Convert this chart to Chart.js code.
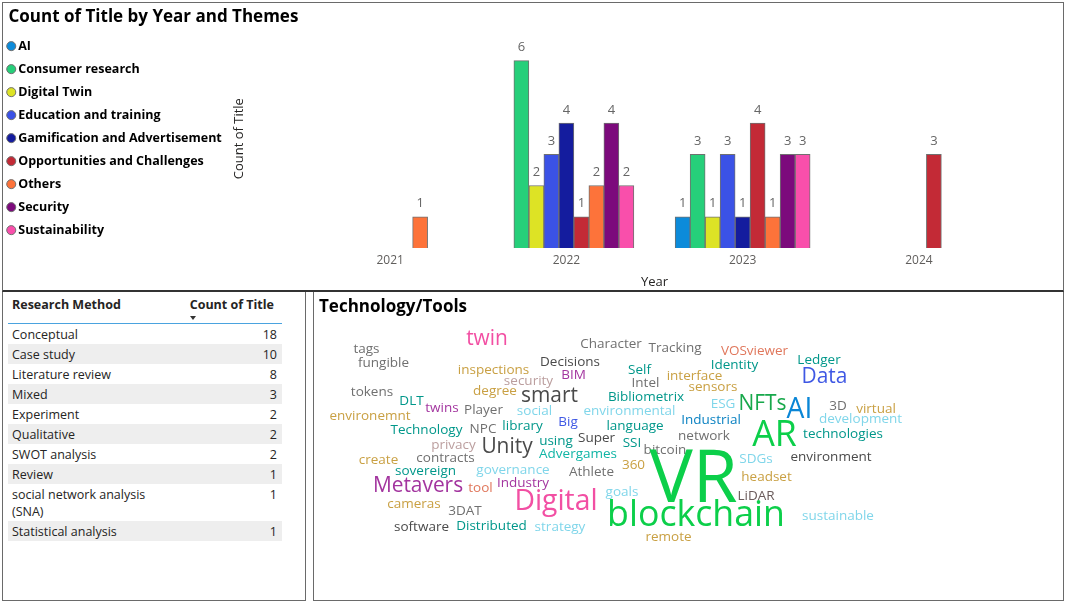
<!DOCTYPE html>
<html>
<head>
<meta charset="utf-8">
<title>Themes dashboard</title>
<script src="https://cdn.jsdelivr.net/npm/chart.js"></script>
<style>
  body { margin: 0; background: #fff; font-family: 'Open Sans', sans-serif; }
  .panel { position: absolute; box-sizing: border-box; border: 1px solid #6a6a6a; background: #fff; }
  #topPanel { left: 2px; top: 2px; width: 1062px; height: 290px; border-bottom: 2px solid #333; }
  #topPanel canvas { position: absolute; left: -3px; top: 0; }
  #tablePanel { left: 2px; top: 292px; width: 304px; height: 309px; border-top: 0; }
  #cloudPanel { left: 313px; top: 292px; width: 751px; height: 309px; border-top: 0; }
  #cloudPanel canvas { position: absolute; left: 0; top: 0; }
  #cloudTitle { position: absolute; left: 5px; top: 2px; font-size: 17px; font-weight: bold; color: #000; z-index: 2; }
  table { position: absolute; left: 5px; top: 3px; width: 274px; border-collapse: collapse; font-size: 12.5px; color: #252423; }
  th { height: 26px; vertical-align: top; padding: 2px 4px 0 4px; line-height: 16px; font-weight: bold; border-bottom: 1px solid #4aa3df; text-align: left; }
  td { vertical-align: top; padding: 2px 4px 1px 4px; line-height: 17px; }
  th.num { text-align: right; padding-right: 8px; }
  td.num { text-align: right; padding-right: 5px; }
  tr.alt td { background: #eeeeee; }
  #sortArrow { position: absolute; left: 187px; top: 24px; width: 0; height: 0;
    border-left: 3px solid transparent; border-right: 3px solid transparent; border-top: 4px solid #333; }
</style>
</head>
<body>
<div id="topPanel" class="panel"><canvas id="themeChart" width="1062" height="287"></canvas></div>
<div id="tablePanel" class="panel"><table id="methodTable"></table><div id="sortArrow"></div></div>
<div id="cloudPanel" class="panel"><div id="cloudTitle">Technology/Tools</div><canvas id="cloudChart" width="749" height="307"></canvas></div>
<script>
// ---- data: themes per year ----
const years = ['2021', '2022', '2023', '2024'];
const themes = ['AI', 'Consumer research', 'Digital Twin', 'Education and training',
    'Gamification and Advertisement', 'Opportunities and Challenges', 'Others', 'Security', 'Sustainability'];
const aiCounts = [null, null, 1, null];
const consumerCounts = [null, 6, 3, null];
const digitalTwinCounts = [null, 2, 1, null];
const educationCounts = [null, 3, 3, null];
const gamificationCounts = [null, 4, 1, null];
const opportunitiesCounts = [null, 1, 4, 3];
const othersCounts = [1, 2, 1, null];
const securityCounts = [null, 4, 3, null];
const sustainabilityCounts = [null, 2, 3, null];
const themeColors = ['#0c8bda', '#26cf7a', '#dde325', '#3b52e6', '#141c9e', '#c32a36', '#fd733a', '#7c0a7c', '#f94fab'];

// ---- data: research methods table ----
const methods = ['Conceptual', 'Case study', 'Literature review', 'Mixed', 'Experiment', 'Qualitative',
    'SWOT analysis', 'Review', 'social network analysis (SNA)', 'Statistical analysis'];
const methodCounts = [18, 10, 8, 3, 2, 2, 2, 1, 1, 1];

// ---- data: technology/tools word cloud ----
const cloudWords = [
    'twin', 'tags', 'fungible', 'Character', 'Tracking', 'Decisions', 'inspections', 'BIM', 'Self', 'security',
    'Intel', 'interface', 'VOSviewer', 'Identity', 'Ledger', 'Data', 'sensors', 'tokens', 'degree', 'smart',
    'DLT', 'Bibliometrix', 'ESG', 'NFTs', 'AI', '3D', 'virtual', 'twins', 'Player', 'social',
    'environmental', 'environemnt', 'development', 'Technology', 'NPC', 'library', 'Big', 'language', 'Industrial', 'network',
    'AR', 'technologies', 'privacy', 'Unity', 'using', 'Super', 'SSI', 'bitcoin', 'create', 'contracts',
    'Advergames', '360', 'SDGs', 'environment', 'sovereign', 'governance', 'Athlete', 'headset', 'Metavers', 'tool',
    'Industry', 'goals', 'VR', 'LiDAR', 'Digital', 'cameras', '3DAT', 'blockchain', 'sustainable', 'software',
    'Distributed', 'strategy', 'remote'];
const cloudWeights = [
    2, 1, 1, 1, 1, 1, 1, 1, 1, 1,
    1, 1, 1, 1, 1, 2, 1, 1, 1, 2,
    1, 1, 1, 2, 3, 1, 1, 1, 1, 1,
    1, 1, 1, 1, 1, 1, 1, 1, 1, 1,
    4, 1, 1, 2, 1, 1, 1, 1, 1, 1,
    1, 1, 1, 1, 1, 1, 1, 1, 2, 1,
    1, 1, 9, 1, 3, 1, 1, 4, 1, 1,
    1, 1, 1];

// cloud layout (position inside the cloud panel) and colour of every word
const cloudX = [
    173, 52.5, 69.5, 297, 361, 256, 179.5, 259.5, 325.5, 214.5,
    331.5, 380.5, 440.5, 420.5, 505, 510.5, 399, 58, 181, 235.5,
    97.5, 332, 409, 448.5, 485.5, 524, 562, 128, 169.5, 220.5,
    315.5, 56, 546.5, 112.5, 169, 208.5, 254, 321, 397, 390,
    460.5, 529, 139.5, 193, 242, 282.5, 318, 351, 64.5, 131.5,
    264, 319.5, 442, 517, 111.5, 199, 277.5, 452.5, 104, 166.5,
    209, 308, 379.5, 442, 242, 100, 151, 382, 524, 107.5,
    177.5, 246, 354.5];
const cloudY = [
    47, 57, 71, 52, 56, 70, 78, 83, 78, 89,
    91, 84, 59, 73, 68, 85, 95, 100, 99, 104,
    109, 105, 112, 112, 118, 114, 117, 116, 118, 119,
    119, 124, 127, 138, 137, 134, 130, 134, 128, 144,
    144, 142, 153, 155, 149, 146, 151, 158, 168, 166,
    162, 173, 167, 165, 179, 178, 180, 185, 194, 196,
    191, 200, 189, 204, 210, 212, 219, 224, 224, 235,
    234, 235, 245];
const cloudPalette = {
    G: '#707070', K: '#4a4a4a', P: '#f24fa3', Y: '#c9a043', U: '#a3359f', T: '#00978a',
    M: '#bb9e9e', S: '#e0775c', B: '#3f58e4', C: '#80d6ea', N: '#17a84b', A: '#0a86d6',
    V: '#0ccf4a', I: '#0b82c2', L: '#6b5c5c', D: '#10b5a5'
};
const cloudColorKeys = [
    'P', 'G', 'G', 'G', 'G', 'K', 'Y', 'U', 'T', 'M',
    'G', 'Y', 'S', 'T', 'T', 'B', 'Y', 'G', 'Y', 'K',
    'T', 'T', 'C', 'N', 'A', 'G', 'Y', 'U', 'G', 'C',
    'C', 'Y', 'C', 'T', 'G', 'T', 'B', 'T', 'I', 'G',
    'V', 'T', 'M', 'K', 'T', 'K', 'T', 'G', 'Y', 'G',
    'D', 'Y', 'C', 'K', 'T', 'C', 'G', 'Y', 'U', 'S',
    'U', 'C', 'V', 'L', 'P', 'Y', 'G', 'V', 'C', 'K',
    'T', 'C', 'Y'];

Chart.defaults.font.family = "'Open Sans', sans-serif";

// ---- bar chart ----
const themeSeries = [aiCounts, consumerCounts, digitalTwinCounts, educationCounts, gamificationCounts,
    opportunitiesCounts, othersCounts, securityCounts, sustainabilityCounts];

// Plugin to write the value above every bar
const valueLabels = {
    id: 'valueLabels',
    afterDatasetsDraw(chart) {
        const ctx = chart.ctx;
        ctx.save();
        ctx.font = "13px 'Open Sans'";
        ctx.fillStyle = '#666666';
        ctx.textAlign = 'center';
        ctx.textBaseline = 'middle';
        chart.data.datasets.forEach((ds, i) => {
            chart.getDatasetMeta(i).data.forEach((bar, j) => {
                if (ds.data[j] === null) return;
                ctx.fillText(ds.data[j], bar.x, bar.y - 13);
            });
        });
        ctx.restore();
    }
};

new Chart(document.getElementById('themeChart'), {
    type: 'bar',
    data: {
        labels: years,
        datasets: themeSeries.map((values, i) => ({
            label: themes[i],
            data: values,
            backgroundColor: themeColors[i],
            borderColor: '#707070',
            borderWidth: 1,
            barThickness: 15
        }))
    },
    options: {
        responsive: false,
        animation: false,
        layout: { padding: { left: 0, right: 55, top: 0, bottom: 0 } },
        plugins: {
            title: {
                display: true,
                text: '\u2002Count of Title by Year and Themes',
                align: 'start',
                color: '#000',
                font: { size: 17, weight: 'bold' },
                padding: { top: 4, bottom: 2 }
            },
            legend: {
                position: 'left',
                align: 'start',
                fullSize: false,
                labels: {
                    usePointStyle: true,
                    pointStyle: 'circle',
                    boxWidth: 1.5,
                    boxHeight: 6.4,
                    padding: 10.5,
                    color: '#000',
                    font: { size: 12.5, weight: 'bold' }
                }
            },
            tooltip: { enabled: false }
        },
        scales: {
            x: {
                grid: { display: false, drawTicks: false },
                border: { display: false },
                ticks: { color: '#605e5c', font: { size: 12 }, padding: 5 },
                title: { display: true, text: 'Year', color: '#252423', font: { size: 13 }, padding: { top: 2, bottom: 0 } }
            },
            y: {
                min: 0,
                max: 7,
                grid: { display: false, drawTicks: false },
                border: { display: false },
                ticks: { display: false },
                title: { display: true, text: 'Count of Title', color: '#252423', font: { size: 13 }, padding: 0 },
                // keep the plot area starting at the same place whatever the legend width is
                afterFit(scale) {
                    const legendWidth = scale.chart.legend ? scale.chart.legend.width : 230;
                    scale.width = Math.max(20, 302 - legendWidth);
                }
            }
        }
    },
    plugins: [valueLabels]
});

// ---- research method table ----
const table = document.getElementById('methodTable');
table.innerHTML = '<colgroup><col style="width:160px"><col></colgroup>' +
    '<tr><th>Research Method</th><th class="num">Count of Title</th></tr>' +
    methods.map((m, i) => `<tr class="${i % 2 ? 'alt' : ''}"><td>${m}</td><td class="num">${methodCounts[i]}</td></tr>`).join('');

// ---- word cloud ----
function wordSize(weight) {
    return 13.5 + 7.4 * (weight - 1);
}

const cloudText = {
    id: 'cloudText',
    afterDatasetsDraw(chart) {
        const ctx = chart.ctx;
        ctx.save();
        ctx.textAlign = 'center';
        ctx.textBaseline = 'middle';
        chart.getDatasetMeta(0).data.forEach((pt, i) => {
            ctx.font = wordSize(cloudWeights[i]) + "px 'Open Sans'";
            ctx.fillStyle = cloudPalette[cloudColorKeys[i]];
            ctx.fillText(cloudWords[i], pt.x, pt.y);
        });
        ctx.restore();
    }
};

new Chart(document.getElementById('cloudChart'), {
    type: 'scatter',
    data: {
        datasets: [{
            data: cloudWords.map((w, i) => ({ x: cloudX[i], y: cloudY[i] })),
            pointRadius: 0
        }]
    },
    options: {
        responsive: false,
        animation: false,
        layout: { padding: 0 },
        plugins: { legend: { display: false }, tooltip: { enabled: false } },
        scales: {
            x: { type: 'linear', min: 0, max: 749, display: false },
            y: { type: 'linear', min: 0, max: 307, reverse: true, display: false }
        }
    },
    plugins: [cloudText]
});
</script>
</body>
</html>
